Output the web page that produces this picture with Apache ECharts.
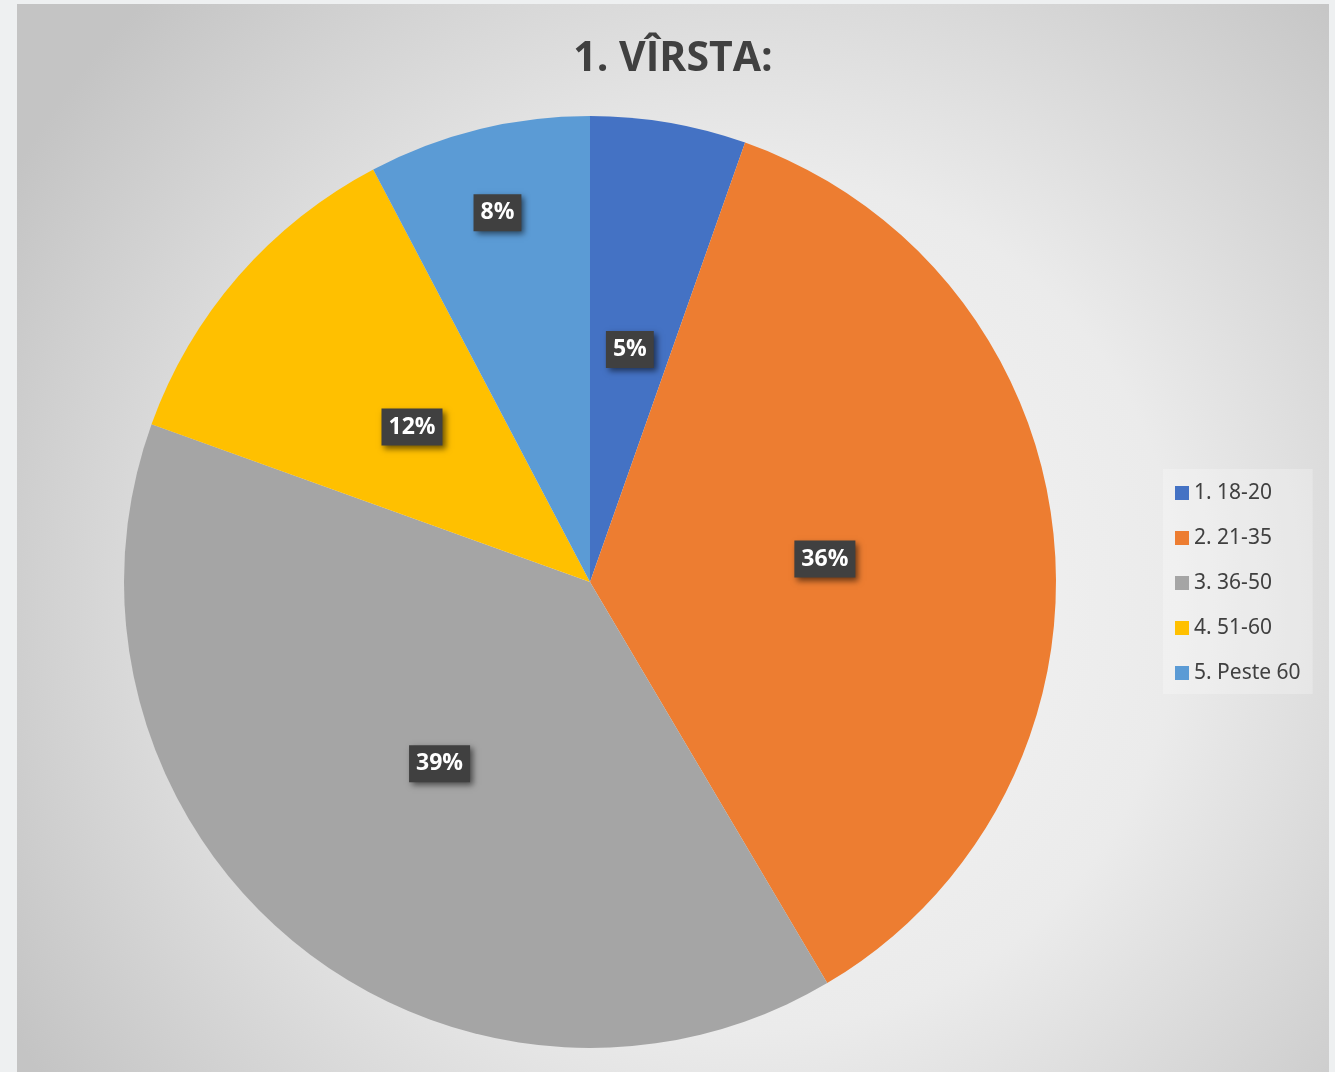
<!DOCTYPE html>
<html>
<head>
<meta charset="utf-8">
<script src="https://cdn.jsdelivr.net/npm/echarts@6/dist/echarts.min.js"></script>
<style>
  html, body { margin: 0; padding: 0; background: #eef0f1; }
  #main { position: absolute; left: 17px; top: 4px; width: 1312px; height: 1068px; }
</style>
</head>
<body>
<div id="main"></div>
<script>
// date diagramă
let titlu = '1. VÎRSTA:';
let categorii = ['1. 18-20', '2. 21-35', '3. 36-50', '4. 51-60', '5. Peste 60'];
let procente = [5.4, 36.1, 39.0, 11.8, 7.7];
let culori = ['#4472c4', '#ed7d31', '#a5a5a5', '#ffc000', '#5b9bd5'];

let chart = echarts.init(document.getElementById('main'));

let option = {
  backgroundColor: {
    type: 'radial', x: 0.56, y: 0.56, r: 0.8,
    colorStops: [
      { offset: 0, color: '#f6f6f6' },
      { offset: 0.5, color: '#ebebeb' },
      { offset: 1, color: '#c4c4c4' }
    ]
  },
  color: culori,
  title: {
    text: titlu,
    left: 'center',
    top: 30,
    textStyle: { fontFamily: 'Open Sans', fontWeight: 'bold', fontSize: 41, color: '#404040' }
  },
  legend: {
    orient: 'vertical',
    left: 1146,
    top: 465,
    padding: [13, 12, 10, 12],
    backgroundColor: 'rgba(255,255,255,0.25)',
    itemWidth: 14,
    itemHeight: 14,
    itemGap: 23,
    icon: 'rect',
    textStyle: { fontFamily: 'Noto Sans', fontSize: 21, color: '#404040', lineHeight: 22 },
    data: categorii
  },
  series: [{
    type: 'pie',
    center: [573, 578],
    radius: 466,
    startAngle: 90,
    clockwise: true,
    silent: true,
    label: {
      position: 'inside',
      formatter: p => Math.round(p.value) + '%',
      color: '#ffffff',
      fontFamily: 'Open Sans',
      fontWeight: 'bold',
      fontSize: 23,
      backgroundColor: '#404040',
      padding: [8, 7, 6, 7],
      shadowColor: 'rgba(0,0,0,0.55)',
      shadowBlur: 6,
      shadowOffsetX: 3,
      shadowOffsetY: 3
    },
    labelLine: { show: false },
    data: categorii.map((c, i) => {
      let d = { name: c, value: procente[i] };
      // eticheta felie mică mutată spre margine, ca în original
      if (i === 4) d.label = { offset: [-36, -140] };
      return d;
    })
  }]
};

chart.setOption(option);
</script>
</body>
</html>
